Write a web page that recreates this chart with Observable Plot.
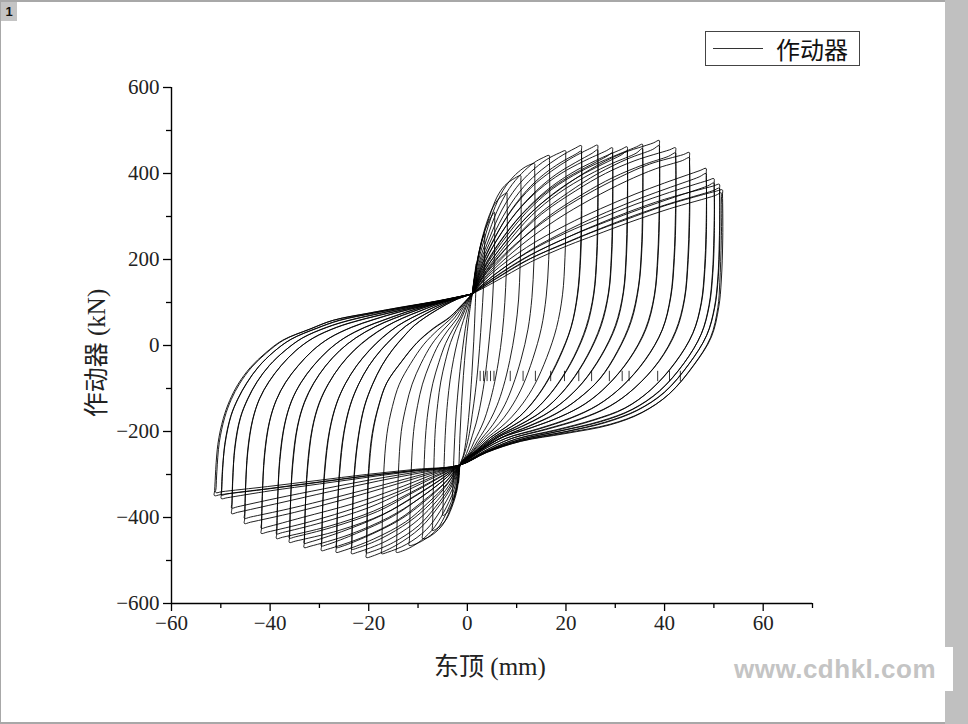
<!DOCTYPE html>
<html><head><meta charset="utf-8">
<script src="https://cdn.jsdelivr.net/npm/d3@7"></script>
<script src="https://cdn.jsdelivr.net/npm/@observablehq/plot@0.6"></script>
<style>
body{margin:0;background:#fff;}
#wrap{position:relative;width:968px;height:724px;overflow:hidden;background:#fff;}
#wrap svg{position:absolute;left:0;top:0;}
.ov{position:absolute;}
</style></head>
<body><div id="wrap"></div>
<script>
// ---- tick values ----
const xTicks = [-60, -40, -20, 0, 20, 40, 60];
const xMinor = [-50, -30, -10, 10, 30, 50, 70];
const yTicks = [-600, -400, -200, 0, 200, 400, 600];
const yMinor = [-500, -300, -100, 100, 300, 500];
const legendLabel = "作动器";
const xTitle = "东顶 (mm)";
const yTitle = "作动器 (kN)";

// ---- hysteresis loops [displacement mm, force kN]; first cycle of each amplitude level ----
const loopA = [[1,120],[1.3,150],[1.6,175],[1.8,190],[1.8,160],[1.6,90],[1.3,10],[0.9,-70],[0.4,-150],[-0.2,-215],[-0.8,-255],[-1.5,-278],[-1.6,-295],[-1.7,-310],[-1.8,-320],[-1.7,-280],[-1.5,-210],[-1.2,-140],[-0.8,-70],[-0.3,0],[0.3,65],[1,120]];
const loopB = [[1,120],[1.5,160],[2.1,200],[2.7,232],[3.2,252],[3.5,260],[3.5,235],[3.4,170],[3.1,100],[2.7,30],[2.2,-45],[1.6,-110],[1,-160],[0.4,-205],[-0.3,-240],[-0.9,-262],[-1.5,-278],[-1.8,-305],[-2.2,-330],[-2.6,-350],[-3,-360],[-2.9,-320],[-2.7,-250],[-2.4,-180],[-2,-120],[-1.5,-60],[-1,-10],[-0.4,40],[0.2,80],[1,120]];
const loopC = [[1,120],[1.6,170],[2.4,220],[3.4,262],[4.4,290],[5.1,304],[5.5,310],[5.55,298],[5.5,220],[5.3,150],[5,85],[4.5,20],[3.9,-45],[3.2,-102],[2.5,-146],[1.8,-180],[1,-210],[0.2,-240],[-0.6,-262],[-1.5,-278],[-1.9,-320],[-2.7,-355],[-3.6,-380],[-4.4,-392],[-5,-395],[-4.95,-383],[-4.7,-270],[-4.4,-190],[-4,-130],[-3.5,-80],[-2.8,-32],[-2,10],[-1.2,44],[-0.4,72],[0.3,97],[1,120]];
const loopD = [[1,120],[1.7,175],[2.7,235],[3.9,285],[5.2,322],[6.5,343],[7.5,352],[8,355],[8.05,343],[8.1,250],[7.9,170],[7.6,100],[7.1,30],[6.3,-38],[5.3,-98],[4.3,-142],[3.4,-174],[2.4,-200],[1.4,-223],[0.3,-250],[-1.5,-278],[-2,-332],[-3.2,-378],[-4.5,-408],[-6.2,-426],[-7.1,-430],[-7.05,-418],[-6.8,-285],[-6.5,-195],[-6,-135],[-5.4,-85],[-4.5,-38],[-3.4,7],[-2.2,40],[-1,68],[0,96],[1,120]];
const loopE = [[1,120],[1.8,180],[3,245],[4.5,300],[6,345],[7.6,372],[9.6,389],[10.8,395],[10.85,383],[10.9,270],[10.7,185],[10.4,108],[9.7,35],[8.6,-35],[7.3,-96],[6,-140],[4.7,-172],[3.4,-198],[2.1,-221],[0.7,-248],[-1.5,-278],[-2.2,-335],[-3.6,-385],[-5.2,-420],[-7.9,-446],[-9.1,-449],[-9.05,-437],[-8.8,-290],[-8.4,-198],[-7.8,-138],[-7,-88],[-5.8,-40],[-4.4,5],[-2.9,38],[-1.4,66],[-0.2,96],[1,120]];
const loopF = [[1,120],[2,185],[3.5,250],[5.2,310],[7.2,360],[9.3,392],[11.3,412],[12.4,419],[13.6,423],[13.65,411],[13.7,285],[13.5,195],[13.1,112],[12.3,38],[10.9,-32],[9.2,-94],[7.6,-138],[6,-170],[4.4,-196],[2.7,-219],[1,-247],[-1.5,-278],[-2.4,-335],[-4.2,-388],[-6.2,-428],[-8.8,-452],[-10.6,-462],[-11.8,-465],[-11.75,-453],[-11.4,-295],[-10.9,-200],[-10.1,-140],[-9.1,-90],[-7.6,-42],[-5.8,3],[-3.9,36],[-2,64],[-0.5,95],[1,120]];
const loopG = [[1,120],[2.2,185],[4,250],[6,312],[8.5,365],[11,400],[13.5,425],[15.4,437],[16.6,442],[16.65,430],[16.7,295],[16.5,200],[16,115],[15,40],[13.3,-30],[11.3,-92],[9.3,-136],[7.4,-168],[5.4,-194],[3.3,-217],[1.2,-246],[-1.5,-278],[-2.7,-335],[-4.8,-388],[-7.2,-430],[-10.4,-462],[-13.2,-478],[-14.4,-481],[-14.35,-469],[-14,-300],[-13.4,-200],[-12.4,-140],[-11.2,-90],[-9.4,-42],[-7.2,3],[-4.9,36],[-2.6,64],[-0.7,95],[1,120]];
const loopH = [[1,120],[2.4,185],[4.5,250],[7,315],[10,368],[13,405],[16,432],[18.7,448],[19.9,453],[19.95,441],[20,300],[19.8,205],[19.3,118],[18.1,42],[16.1,-28],[13.7,-90],[11.3,-134],[9,-166],[6.6,-192],[4,-215],[1.5,-245],[-1.5,-278],[-3,-333],[-5.5,-385],[-8.3,-428],[-12.3,-462],[-16.2,-481],[-17.4,-484],[-17.35,-472],[-17,-305],[-16.3,-205],[-15.2,-142],[-13.8,-90],[-11.5,-42],[-8.8,3],[-6,36],[-3.2,64],[-0.9,95],[1,120]];
const loopI = [[1,120],[2.6,185],[5,250],[8,315],[11.5,370],[15,408],[18.5,437],[21.9,459],[23.1,465],[23.15,453],[23.2,305],[23,208],[22.4,120],[21.1,44],[18.8,-26],[16,-88],[13.3,-132],[10.7,-164],[7.8,-190],[4.8,-213],[1.8,-244],[-1.5,-278],[-3.3,-330],[-6.2,-380],[-9.6,-425],[-14.5,-465],[-19.3,-490],[-20.5,-493],[-20.45,-481],[-20.1,-300],[-19.3,-205],[-18,-140],[-16.4,-88],[-13.5,-40],[-10.3,5],[-7,38],[-3.6,65],[-1,95],[1,120]];
const loopJ = [[1,120],[2.8,185],[5.5,250],[9,315],[13,368],[17,405],[21,435],[25.2,460],[26.4,466],[26.45,454],[26.5,305],[26.3,210],[25.7,122],[24.3,46],[21.8,-24],[18.6,-86],[15.5,-130],[12.5,-162],[9,-188],[5.5,-212],[2,-243],[-1.5,-278],[-3.7,-325],[-7,-372],[-11,-415],[-16.5,-455],[-22.3,-481],[-23.5,-484],[-23.45,-472],[-23,-305],[-22.1,-210],[-20.9,-142],[-19.3,-92],[-17.4,-48],[-15.3,-12],[-13.1,18],[-10.8,46],[-8.6,65],[-6.4,81],[-4.3,95],[-2,108],[1,120]];
const loopK = [[1,120],[3,180],[6,245],[10,310],[14.5,362],[19,400],[23.5,428],[28.2,453],[29.4,460],[29.45,448],[29.5,305],[29.3,212],[28.7,124],[27.2,48],[24.5,-22],[21,-85],[17.5,-130],[14,-162],[10,-188],[6,-212],[2.3,-243],[-1.5,-278],[-4,-320],[-8,-366],[-12.5,-410],[-19,-450],[-25.4,-478],[-26.6,-481],[-26.55,-469],[-26,-300],[-25.1,-205],[-23.8,-140],[-22.1,-91],[-20,-48],[-17.6,-12],[-15.1,18],[-12.5,45],[-9.9,64],[-7.4,80],[-5,94],[-2.3,108],[1,120]];
const loopL = [[1,120],[3,175],[6.5,240],[11,305],[16,360],[21,400],[26,430],[31.2,456],[32.4,462],[32.45,450],[32.5,310],[32.3,215],[31.7,125],[30.2,48],[27.3,-22],[23.5,-85],[19.5,-130],[15.5,-162],[11,-188],[6.5,-212],[2.5,-243],[-1.5,-278],[-4.5,-318],[-9,-362],[-14,-405],[-21,-445],[-28.4,-474],[-29.6,-477],[-29.55,-465],[-29,-295],[-28,-200],[-26.6,-137],[-24.8,-90],[-22.5,-48],[-19.9,-12],[-17.2,18],[-14.2,45],[-11.3,64],[-8.4,80],[-5.7,94],[-2.7,108],[1,120]];
const loopM = [[1,120],[3.5,180],[7,240],[12,310],[17,362],[23,405],[28,432],[34.3,462],[35.5,468],[35.55,456],[35.6,310],[35.4,225],[34.8,140],[33.3,58],[30.6,-12],[27,-76],[22.5,-124],[18,-158],[12.5,-187],[7.5,-211],[2.8,-243],[-1.5,-278],[-5,-315],[-10,-358],[-16,-400],[-24,-440],[-31.9,-467],[-33.1,-470],[-33.05,-458],[-32.5,-290],[-31.5,-195],[-30.1,-135],[-28.2,-89],[-25.8,-48],[-23,-12],[-20,17],[-16.5,44],[-13.2,63],[-9.8,79],[-6.7,93],[-3.2,107],[1,120]];
const loopN = [[1,120],[3.5,175],[8,245],[13,310],[19,365],[25,410],[31,445],[37.7,471],[38.9,477],[38.95,465],[39,320],[38.7,210],[38,118],[36.3,40],[33,-30],[28.5,-92],[24,-135],[19,-165],[13,-191],[7,-214],[2.5,-244],[-1.5,-278],[-5.5,-312],[-11,-352],[-17,-392],[-26,-430],[-34.9,-455],[-36.1,-458],[-36.05,-446],[-35.5,-280],[-34.5,-190],[-33.1,-133],[-31.2,-88],[-28.8,-48],[-25.9,-12],[-22.7,17],[-18.8,43],[-15,62],[-11.2,78],[-7.7,92],[-3.6,106],[1,120]];
const loopO = [[1,120],[4,175],[9,240],[15,305],[22,360],[28,400],[34,430],[41,455],[42.2,460],[42.25,448],[42.3,310],[42,205],[41.3,115],[39.6,38],[36.2,-32],[31.4,-95],[26.5,-138],[21,-168],[14.5,-193],[8,-215],[3,-244],[-1.5,-278],[-6,-308],[-12,-345],[-19,-385],[-28,-420],[-37.5,-446],[-38.7,-449],[-38.65,-437],[-38.1,-270],[-37.1,-185],[-35.7,-130],[-33.8,-87],[-31.3,-48],[-28.3,-12],[-25,17],[-20.8,42],[-16.7,60],[-12.5,77],[-8.5,91],[-4,105],[1,120]];
const loopP = [[1,120],[4,170],[10,238],[17,300],[24,350],[31,392],[37,422],[43.8,444],[45,449],[45.05,437],[45.1,300],[44.8,200],[44.1,110],[42.4,35],[39,-35],[34,-98],[29,-140],[23,-170],[16,-194],[9,-216],[3.5,-245],[-1.5,-278],[-7,-305],[-14,-340],[-22,-375],[-32,-410],[-40.6,-434],[-41.8,-437],[-41.75,-425],[-41.2,-260],[-40.2,-180],[-38.8,-128],[-36.9,-86],[-34.4,-48],[-31.4,-12],[-28,17],[-23.5,42],[-19,60],[-14,77],[-9.5,90],[-4.5,104],[1,120]];
const loopQ = [[1,120],[5,168],[12,228],[20,280],[27,318],[34,352],[40,378],[47.2,407],[48.4,412],[48.45,400],[48.5,270],[48.2,180],[47.5,100],[45.8,30],[42.3,-38],[37.3,-102],[32,-145],[25.5,-173],[18,-196],[10,-217],[4,-245],[-1.5,-278],[-8,-300],[-16,-328],[-25,-358],[-35,-388],[-44,-411],[-45.2,-414],[-45.15,-402],[-44.6,-250],[-43.6,-175],[-42.2,-125],[-40.3,-85],[-37.8,-47],[-34.8,-12],[-31.3,17],[-26.5,42],[-22,58],[-16,75],[-11,88],[-5,103],[1,120]];
const loopR = [[1,120],[5,160],[12,215],[20,262],[27,296],[34,328],[41,356],[48.8,384],[50,388],[50.05,376],[50.1,260],[49.8,170],[49.1,95],[47.5,28],[44,-40],[39,-105],[33.5,-148],[27,-176],[19,-198],[10.5,-219],[4,-246],[-1.5,-278],[-9,-295],[-18,-315],[-28,-340],[-38,-366],[-46.6,-388],[-47.8,-391],[-47.75,-379],[-47.2,-240],[-46.1,-170],[-44.6,-125],[-42.7,-85],[-40.2,-47],[-37,-12],[-33.5,17],[-28.5,42],[-24,58],[-17.5,75],[-12,88],[-5.5,103],[1,120]];
const loopS = [[1,120],[5,155],[12,206],[20,250],[26,280],[33,312],[40,340],[49.9,371],[51.1,375],[51.15,363],[51.2,250],[50.9,160],[50.2,90],[48.6,25],[45,-42],[40,-108],[34.5,-150],[28,-178],[20,-200],[11,-220],[4,-247],[-1.5,-278],[-10,-291],[-20,-306],[-30,-322],[-40,-338],[-48.7,-354],[-49.9,-356],[-49.85,-344],[-49.2,-230],[-48,-165],[-46.6,-125],[-44.8,-88],[-42.4,-50],[-39.3,-15],[-35.8,14],[-30.5,40],[-26,58],[-19,75],[-13,88],[-6,103],[1,120]];
const loopT = [[1,120],[5,150],[12,198],[20,238],[25,262],[32,292],[40,325],[50.5,359],[51.7,362],[51.75,350],[51.8,250],[51.5,150],[51,90],[49.5,20],[46,-45],[41,-112],[35.5,-155],[29,-183],[20,-203],[11,-222],[4,-248],[-1.5,-278],[-10,-290],[-20,-303],[-30,-318],[-40,-333],[-50.1,-347],[-51.3,-349],[-51.25,-337],[-50.6,-230],[-49.5,-170],[-48.2,-128],[-46.5,-90],[-44,-51],[-41,-18],[-37.5,12],[-32,38],[-27.4,58],[-20,75],[-13.8,88],[-6,103],[1,120]];

// ---- repeated (second) cycles of the larger levels ----
const loopI2 = [[1,120],[2.8,182],[5.4,246],[8.5,308],[12,360],[15.5,398],[19,426],[22,445],[23.1,452],[23.15,440],[23.2,410],[23.1,300],[22.9,205],[22.3,118],[21,42],[18.6,-28],[15.8,-90],[13.1,-134],[10.5,-166],[7.6,-192],[4.6,-215],[1.6,-246],[-1.5,-278],[-3.5,-328],[-6.5,-376],[-10,-420],[-15,-458],[-19.3,-479],[-20.5,-482],[-20.45,-470],[-20.3,-400],[-20,-300],[-19.2,-205],[-17.9,-138],[-16.3,-86],[-13.4,-38],[-10.2,7],[-6.9,40],[-3.5,67],[-1,96],[1,120]];
const loopJ2 = [[1,120],[3,182],[6,246],[9.8,308],[14,360],[18,398],[22,426],[25.3,447],[26.4,455],[26.45,443],[26.5,412],[26.4,300],[26.2,207],[25.6,120],[24.1,44],[21.6,-26],[18.4,-88],[15.3,-132],[12.3,-164],[8.8,-190],[5.3,-214],[1.9,-245],[-1.5,-278],[-4,-322],[-7.5,-368],[-11.8,-410],[-17.5,-449],[-22.3,-471],[-23.5,-474],[-23.45,-462],[-23.3,-400],[-22.9,-300],[-22,-207],[-20.8,-140],[-19.2,-90],[-17.3,-46],[-15.2,-10],[-13,20],[-10.7,47],[-8.5,66],[-6.3,82],[-4.2,96],[-2,108],[1,120]];
const loopK2 = [[1,120],[3.3,178],[6.6,240],[11,304],[15.8,355],[20.5,392],[25,420],[28.3,440],[29.4,448],[29.45,436],[29.5,408],[29.4,300],[29.2,208],[28.6,122],[27,46],[24.3,-24],[20.8,-87],[17.3,-132],[13.8,-164],[9.8,-190],[5.8,-214],[2.2,-244],[-1.5,-278],[-4.4,-318],[-8.6,-362],[-13.5,-404],[-20.2,-443],[-25.4,-467],[-26.6,-470],[-26.55,-458],[-26.4,-395],[-25.9,-297],[-25,-203],[-23.7,-138],[-22,-89],[-19.9,-46],[-17.5,-10],[-15,20],[-12.4,46],[-9.8,65],[-7.3,81],[-4.9,95],[-2.2,108],[1,120]];
const loopL2 = [[1,120],[3.4,172],[7.2,234],[12,298],[17.3,352],[22.5,392],[27.5,422],[31.2,443],[32.4,452],[32.45,440],[32.5,410],[32.4,305],[32.2,212],[31.6,123],[30,46],[27.1,-24],[23.3,-87],[19.3,-132],[15.3,-164],[10.8,-190],[6.3,-213],[2.4,-244],[-1.5,-278],[-4.9,-314],[-9.8,-356],[-15.2,-398],[-22.5,-437],[-28.4,-463],[-29.6,-466],[-29.55,-454],[-29.4,-390],[-28.9,-292],[-27.9,-198],[-26.5,-135],[-24.7,-88],[-22.4,-46],[-19.8,-10],[-17.1,20],[-14.1,46],[-11.2,65],[-8.3,81],[-5.6,95],[-2.6,108],[1,120]];
const loopM2 = [[1,120],[3.8,174],[7.8,234],[13,302],[18.5,354],[24.5,396],[29.5,424],[34.2,447],[35.5,458],[35.55,446],[35.6,415],[35.5,305],[35.3,222],[34.7,138],[33.1,56],[30.4,-14],[26.8,-78],[22.3,-126],[17.8,-160],[12.3,-189],[7.3,-212],[2.7,-244],[-1.5,-278],[-5.4,-312],[-10.8,-352],[-17.2,-394],[-25.5,-433],[-31.9,-457],[-33.1,-460],[-33.05,-448],[-32.9,-385],[-32.4,-287],[-31.4,-193],[-30,-134],[-28.1,-88],[-25.7,-46],[-22.9,-10],[-19.9,19],[-16.4,45],[-13.1,64],[-9.7,80],[-6.6,94],[-3.1,107],[1,120]];
const loopN2 = [[1,120],[3.9,170],[8.8,238],[14.2,302],[20.5,356],[26.5,400],[32.5,434],[37.6,456],[38.9,465],[38.95,453],[39,425],[38.9,315],[38.6,208],[37.9,116],[36.1,38],[32.8,-32],[28.3,-94],[23.8,-136],[18.8,-166],[12.8,-192],[6.8,-215],[2.4,-245],[-1.5,-278],[-5.9,-309],[-11.8,-347],[-18.2,-386],[-27.5,-423],[-34.9,-445],[-36.1,-448],[-36.05,-436],[-35.9,-375],[-35.4,-277],[-34.4,-188],[-33,-132],[-31.1,-87],[-28.7,-47],[-25.8,-11],[-22.6,18],[-18.7,44],[-14.9,63],[-11.1,79],[-7.6,93],[-3.5,107],[1,120]];
const loopO2 = [[1,120],[4.4,170],[9.8,234],[16.2,298],[23.4,352],[29.6,391],[35.6,420],[40.8,440],[42.2,448],[42.25,436],[42.3,408],[42.2,305],[41.9,202],[41.2,113],[39.5,36],[36,-34],[31.2,-97],[26.3,-140],[20.8,-170],[14.3,-195],[7.8,-216],[2.9,-245],[-1.5,-278],[-6.4,-305],[-12.8,-340],[-20.2,-378],[-29.6,-412],[-37.5,-435],[-38.7,-438],[-38.65,-426],[-38.5,-365],[-38,-265],[-37,-182],[-35.6,-128],[-33.7,-86],[-31.2,-47],[-28.2,-11],[-24.9,18],[-20.7,43],[-16.6,61],[-12.4,78],[-8.4,92],[-4,105],[1,120]];
const loopP2 = [[1,120],[4.4,166],[10.8,232],[18,292],[25.2,341],[32.2,382],[38.2,411],[43.6,430],[45,437],[45.05,425],[45.1,398],[45,296],[44.7,197],[44,108],[42.2,33],[38.8,-37],[33.8,-100],[28.8,-142],[22.8,-172],[15.8,-196],[8.8,-217],[3.4,-246],[-1.5,-278],[-7.4,-302],[-14.8,-335],[-23.2,-368],[-33.5,-400],[-40.6,-422],[-41.8,-425],[-41.75,-413],[-41.6,-352],[-41.1,-255],[-40.1,-177],[-38.7,-126],[-36.8,-85],[-34.3,-47],[-31.3,-11],[-27.9,18],[-23.4,43],[-18.9,61],[-13.9,78],[-9.4,91],[-4.4,104],[1,120]];
const loopQ2 = [[1,120],[5.4,164],[12.8,222],[21,272],[28.2,310],[35.2,343],[41.2,368],[47,392],[48.4,400],[48.45,388],[48.5,362],[48.4,265],[48.1,177],[47.4,98],[45.7,28],[42.1,-40],[37.1,-104],[31.8,-147],[25.3,-175],[17.8,-198],[9.8,-218],[3.9,-246],[-1.5,-278],[-8.5,-298],[-17,-324],[-26.3,-352],[-36.3,-380],[-44,-399],[-45.2,-402],[-45.15,-390],[-45,-333],[-44.5,-245],[-43.5,-172],[-42.1,-123],[-40.2,-84],[-37.7,-46],[-34.7,-11],[-31.2,18],[-26.4,43],[-21.9,59],[-15.9,76],[-10.9,89],[-4.9,104],[1,120]];
const loopR2 = [[1,120],[5.4,157],[12.8,210],[21,255],[28.2,288],[35.2,318],[42,345],[48.7,371],[50,378],[50.05,366],[50.1,342],[50,255],[49.7,167],[49,93],[47.4,26],[43.9,-42],[38.9,-107],[33.3,-150],[26.8,-178],[18.8,-199],[10.3,-220],[3.9,-247],[-1.5,-278],[-9.5,-293],[-19,-311],[-29,-333],[-39,-356],[-46.6,-375],[-47.8,-378],[-47.75,-366],[-47.6,-313],[-47.1,-236],[-46,-168],[-44.5,-124],[-42.6,-84],[-40.1,-46],[-36.9,-11],[-33.4,18],[-28.4,43],[-23.9,59],[-17.4,76],[-11.9,89],[-5.4,104],[1,120]];
const loopS2 = [[1,120],[5.4,152],[12.8,202],[21,244],[27,272],[34,303],[41,330],[49.8,360],[51.1,366],[51.15,354],[51.2,332],[51.1,245],[50.8,157],[50.1,88],[48.5,23],[44.9,-44],[39.9,-110],[34.3,-152],[27.8,-180],[19.8,-201],[10.8,-221],[3.9,-248],[-1.5,-278],[-10.5,-290],[-20.5,-303],[-30.5,-318],[-40.5,-333],[-48.7,-345],[-49.9,-348],[-49.85,-336],[-49.7,-293],[-49.1,-226],[-47.9,-163],[-46.5,-124],[-44.7,-87],[-42.3,-49],[-39.2,-14],[-35.7,15],[-30.4,41],[-25.9,59],[-18.9,76],[-12.9,89],[-5.9,104],[1,120]];
const loopT2 = [[1,120],[5.4,147],[12.8,194],[20.5,233],[26,257],[33,287],[41,318],[50.3,349],[51.5,355],[51.55,343],[51.6,322],[51.5,245],[51.2,147],[50.8,88],[49.3,18],[45.8,-47],[40.8,-114],[35.3,-157],[28.8,-185],[19.8,-205],[10.8,-223],[3.9,-249],[-1.5,-278],[-10.5,-288],[-20.5,-300],[-30.5,-314],[-40.5,-328],[-49.8,-340],[-51,-342],[-50.95,-330],[-50.8,-293],[-50.3,-225],[-49.2,-167],[-47.9,-126],[-46.2,-89],[-43.7,-50],[-40.7,-17],[-37.2,13],[-31.7,39],[-27.1,59],[-19.7,76],[-13.5,89],[-5.8,104],[1,120]];

// small data spikes seen on the unloading branches near -70 kN
const spikeX = [2.6, 3.3, 4.0, 4.7, 5.4, 8.7, 11.3, 13.8, 16.9, 19.7, 22.6, 25.2, 28.8, 31.4, 32.8, 38.6, 41.0, 43.2];
const spikeTop = -60, spikeBottom = -84;

const loops = [loopA, loopB, loopC, loopD, loopE, loopF, loopG, loopH, loopI, loopJ, loopK, loopL, loopM, loopN, loopO, loopP, loopQ, loopR, loopS, loopT,
               loopI2, loopJ2, loopK2, loopL2, loopM2, loopN2, loopO2, loopP2, loopQ2, loopR2, loopS2, loopT2];
const rows = loops.flatMap((pts, i) => pts.map(([x, y]) => ({x, y, loop: i})));

const W = 968, H = 724;
const font = "'Liberation Serif', 'Noto Sans CJK SC', serif";

const chart = Plot.plot({
  width: W, height: H,
  marginLeft: 171, marginRight: W - 812, marginTop: 87, marginBottom: H - 603,
  style: {fontFamily: font, fontSize: "21px", color: "#000", background: "transparent", overflow: "visible"},
  x: {domain: [-60, 70]},
  y: {domain: [-600, 600]},
  marks: [
    Plot.line(rows, {x: "x", y: "y", z: "loop", curve: "catmull-rom", stroke: "#000", strokeWidth: 1, strokeOpacity: 0.88}),
    Plot.ruleX(spikeX, {x: d => d, y1: spikeBottom, y2: spikeTop, stroke: "#000", strokeWidth: 1, strokeOpacity: 0.8}),
    Plot.ruleX([-60], {stroke: "#000", strokeWidth: 1.4}),
    Plot.ruleY([-600], {stroke: "#000", strokeWidth: 1.4}),
    Plot.axisX(xTicks, {tickSize: 8, tickPadding: 4, strokeWidth: 1.3, label: null, fontSize: 21, fill: "#222"}),
    Plot.axisX(xMinor, {tickSize: 5, text: null, strokeWidth: 1.3, label: null}),
    Plot.axisY(yTicks, {tickSize: 8, tickPadding: 4, strokeWidth: 1.3, label: null, fontSize: 21, fill: "#222"}),
    Plot.axisY(yMinor, {tickSize: 5, text: null, strokeWidth: 1.3, label: null})
  ]
});

const wrap = document.getElementById("wrap");
wrap.appendChild(chart);

function ov(html, css) {
  const d = document.createElement("div");
  d.className = "ov";
  d.style.cssText = css;
  d.innerHTML = html;
  wrap.appendChild(d);
  return d;
}
// page frame
ov("", "left:0;top:0;width:968px;height:2px;background:#a8a8a8;");
ov("", "left:0;top:0;width:1px;height:724px;background:#a8a8a8;");
ov("", "left:0;top:722px;width:968px;height:2px;background:#a8a8a8;");
ov("", "left:945px;top:0;width:23px;height:724px;background:#c0c0c0;");
ov("1", "left:1px;top:2px;width:16px;height:19px;background:#c4c4c4;font:bold 13px 'Liberation Sans',Arial,sans-serif;line-height:19px;text-align:center;color:#111;");
// legend
ov(`<div style="position:absolute;left:7px;top:16px;width:50px;height:1px;background:#333;"></div><span style="position:absolute;left:70px;top:0px;font:24px 'Noto Sans CJK SC',sans-serif;line-height:33px;color:#111;">${legendLabel}</span>`,
   "left:705px;top:31px;width:153px;height:33px;border:1px solid #444;background:#fff;");
// axis titles
ov(xTitle, `left:390px;top:646px;width:200px;text-align:center;font:25px ${font};color:#222;white-space:nowrap;`);
ov(yTitle, `left:-9px;top:338px;width:200px;text-align:center;font:25px ${font};color:#222;white-space:nowrap;transform:rotate(-90deg);transform-origin:100px 15px;`);
// watermark
ov("www.cdhkl.com", "left:717px;top:647px;width:236px;height:44px;background:#fff;font:bold 26px 'Liberation Sans',Arial,sans-serif;line-height:44px;text-align:center;color:#c4c4c4;letter-spacing:0.5px;");
</script>
</body></html>
